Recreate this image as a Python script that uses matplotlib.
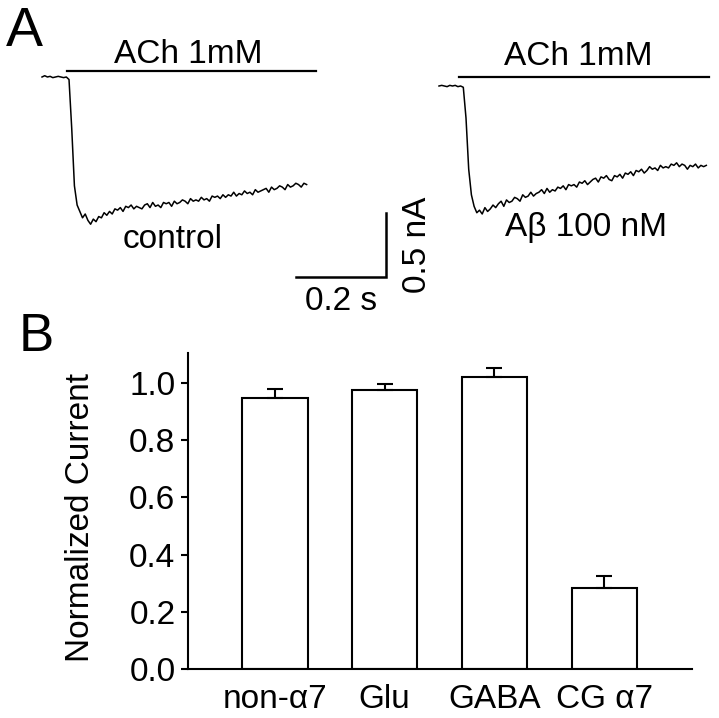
import numpy as np
import matplotlib
matplotlib.use("Agg")
import matplotlib.pyplot as plt

plt.rcParams['font.family'] = ['Liberation Sans', 'DejaVu Sans']

# Panel A: whole-cell currents (nA), sampled every 6 ms
dt = 0.006
control_trace = [
    0.00, 0.01, 0.00, 0.005, -0.005, 0.00, 0.005, 0.00, -0.005, 0.00,
    -0.02, -0.40, -0.85, -1.00, -1.05, -1.10, -1.07, -1.12, -1.15, -1.11,
    -1.13, -1.09, -1.10, -1.06, -1.08, -1.05, -1.07, -1.03, -1.04, -1.02,
    -1.05, -1.01, -1.02, -1.00, -1.03, -1.01, -1.02, -1.03, -1.00, -0.99,
    -1.02, -0.98, -1.01, -1.00, -1.02, -0.98, -0.99, -0.98, -1.01, -0.97,
    -0.99, -0.98, -0.96, -0.97, -0.99, -0.95, -0.97, -0.96, -0.97, -0.94,
    -0.96, -0.95, -0.97, -0.93, -0.94, -0.93, -0.95, -0.92, -0.94, -0.92,
    -0.93, -0.90, -0.93, -0.91, -0.92, -0.89, -0.91, -0.90, -0.92, -0.88,
    -0.90, -0.89, -0.88, -0.87, -0.90, -0.86, -0.88, -0.87, -0.85, -0.86,
    -0.88, -0.84, -0.86, -0.85, -0.83, -0.84, -0.86, -0.83, -0.84,
]
abeta_trace = [
    0.00, 0.005, 0.00, -0.005, 0.005, 0.00, 0.005, -0.005, 0.00, -0.01,
    -0.25, -0.65, -0.85, -0.94, -0.99, -0.97, -1.00, -0.95, -0.98, -0.96,
    -0.93, -0.95, -0.92, -0.90, -0.94, -0.89, -0.91, -0.90, -0.87, -0.88,
    -0.90, -0.85, -0.87, -0.86, -0.83, -0.86, -0.84, -0.83, -0.81, -0.84,
    -0.80, -0.83, -0.81, -0.82, -0.79, -0.80, -0.78, -0.81, -0.77, -0.78,
    -0.77, -0.79, -0.75, -0.76, -0.74, -0.77, -0.75, -0.73, -0.72, -0.75,
    -0.71, -0.72, -0.70, -0.73, -0.74, -0.70, -0.71, -0.69, -0.72, -0.68,
    -0.69, -0.67, -0.70, -0.66, -0.67, -0.65, -0.68, -0.66, -0.63, -0.65,
    -0.64, -0.66, -0.62, -0.64, -0.63, -0.64, -0.61, -0.62, -0.60, -0.63,
    -0.61, -0.62, -0.65, -0.62, -0.63, -0.61, -0.64, -0.62, -0.63, -0.62,
]

# Panel B: normalized current
categories = ['non-\u03b17', 'Glu', 'GABA', 'CG \u03b17']
norm_current = [0.948, 0.976, 1.022, 0.283]
norm_sem = [0.030, 0.019, 0.030, 0.042]

W, H = 719, 718
fig = plt.figure(figsize=(W / 100, H / 100), dpi=100)


def px_axes(x0, y0, x1, y1):
    # axes from pixel box (top-left origin)
    return fig.add_axes([x0 / W, 1 - y1 / H, (x1 - x0) / W, (y1 - y0) / H])


def px_text(x, y, s, **kw):
    fig.text(x / W, 1 - y / H, s, **kw)


# ---- Panel A ----
ax1 = px_axes(30, 30, 440, 320)
ax1.set_xlim(-0.0267, 0.8844)
ax1.set_ylim(-1.898, 0.367)
ax1.axis('off')
t1 = np.arange(len(control_trace)) * dt
ax1.plot(t1, control_trace, color='black', lw=1.1)
ax1.plot([0.056, 0.609], [0.047, 0.047], color='black', lw=1.6)
# scale bars: 0.2 s, 0.5 nA
ax1.plot([0.564, 0.764, 0.764], [-1.5625, -1.5625, -1.0625], color='black', lw=1.8,
         solid_joinstyle='miter')

ax2 = px_axes(430, 30, 719, 320)
ax2.set_xlim(-0.02, 0.6222)
ax2.set_ylim(-1.828, 0.4375)
ax2.axis('off')
t2 = np.arange(len(abeta_trace)) * dt
ax2.plot(t2, abeta_trace, color='black', lw=1.1)
ax2.plot([0.044, 0.60], [0.07, 0.07], color='black', lw=1.6)

fs = 24
px_text(24, 32, 'A', fontsize=40, ha='center', va='center')
px_text(188, 63, 'ACh 1mM', fontsize=fs, ha='center', va='baseline')
px_text(578, 65, 'ACh 1mM', fontsize=fs, ha='center', va='baseline')
px_text(173, 248, 'control', fontsize=fs, ha='center', va='baseline')
px_text(586, 236, 'A\u03b2 100 nM', fontsize=fs, ha='center', va='baseline')
px_text(341, 310, '0.2 s', fontsize=fs, ha='center', va='baseline')
px_text(417, 245, '0.5 nA', fontsize=fs, ha='center', va='center', rotation=90)
px_text(36, 337, 'B', fontsize=38, ha='center', va='center')

# ---- Panel B ----
axb = px_axes(188, 353, 692, 669)
x = np.arange(len(categories))
axb.bar(x, norm_current, width=0.593, color='white', edgecolor='black', linewidth=1.5,
        yerr=[np.zeros(len(norm_sem)), norm_sem],
        error_kw=dict(ecolor='black', elinewidth=1.5, capsize=6, capthick=1.5))
axb.set_xlim(-0.793, 3.80)
axb.set_ylim(0, 1.105)
axb.set_yticks([0.0, 0.2, 0.4, 0.6, 0.8, 1.0])
axb.set_yticklabels(['0.0', '0.2', '0.4', '0.6', '0.8', '1.0'])
axb.set_xticks(x)
axb.set_xticklabels(categories)
axb.tick_params(axis='y', direction='out', length=5, width=1.5, labelsize=fs, pad=4)
axb.tick_params(axis='x', length=0, labelsize=fs, pad=11)
for side in ['top', 'right']:
    axb.spines[side].set_visible(False)
for side in ['left', 'bottom']:
    axb.spines[side].set_linewidth(1.5)
axb.set_ylabel('Normalized Current', fontsize=fs, va='center')
axb.yaxis.set_label_coords(-0.214, 0.48)

fig.savefig('out.png', dpi=100)
